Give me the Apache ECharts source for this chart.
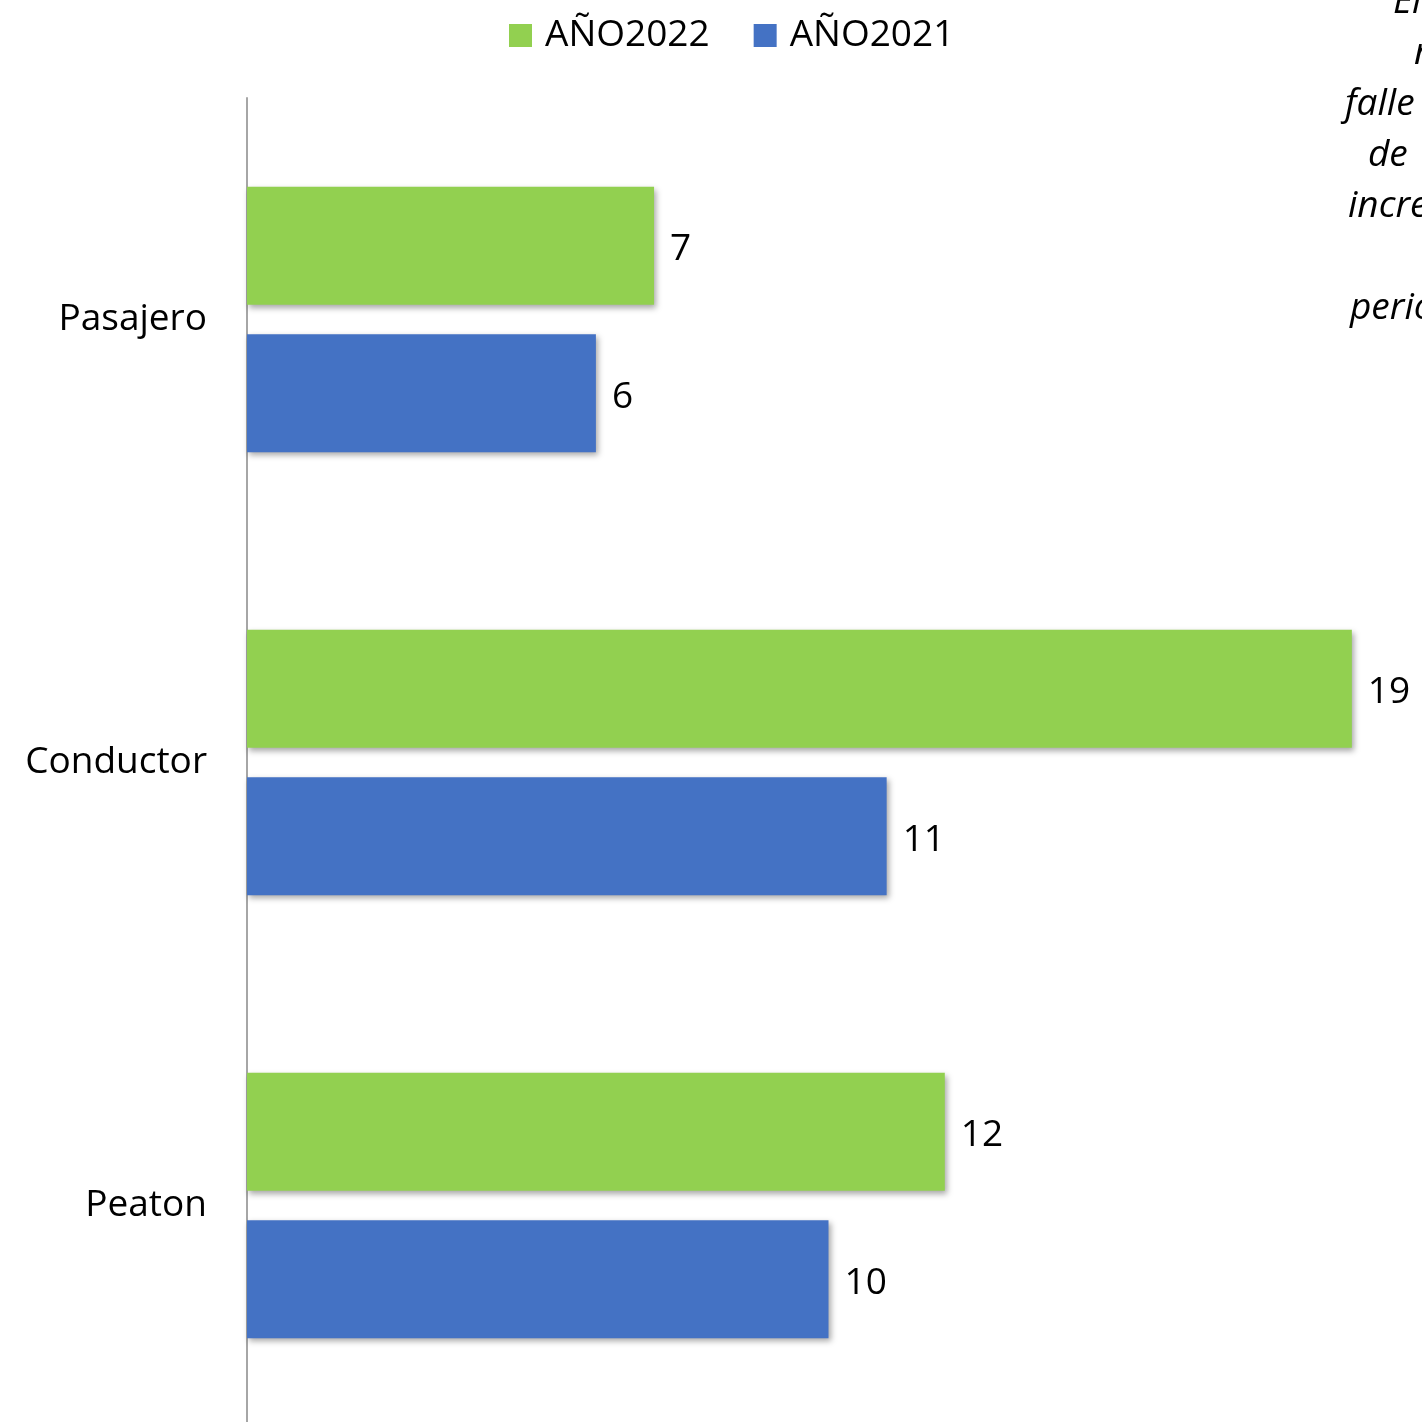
<!DOCTYPE html>
<html><head><meta charset="utf-8">
<script src="https://cdn.jsdelivr.net/npm/echarts@6/dist/echarts.min.js"></script>
<style>html,body{margin:0;padding:0;background:#fff;overflow:hidden}#c{width:1422px;height:1427px}</style>
</head><body><div id="c"></div>
<script>
const categories = ['Pasajero', 'Conductor', 'Peaton'];
const seriesNames = ['AÑO2022', 'AÑO2021'];
const values2022 = [7, 19, 12];
const values2021 = [6, 11, 10];
const sideTextLines = ['El', 'n', 'falle', 'de ', 'incre', '', 'perio'];
const sideTextX = [1393, 1414, 1345, 1368, 1348, 0, 1350];

const FONT = '"Open Sans", "Liberation Sans", sans-serif';
const chart = echarts.init(document.getElementById('c'));
const barShadow = {shadowColor: 'rgba(0,0,0,0.35)', shadowBlur: 6, shadowOffsetX: 2, shadowOffsetY: 3};
const labelStyle = {show: true, position: 'right', distance: 16, offset: [0, 4], color: '#000', fontSize: 37, fontFamily: FONT};

chart.setOption({
  animation: false,
  backgroundColor: '#fff',
  legend: {
    data: seriesNames, top: 12, left: 504, itemWidth: 23, itemHeight: 23, itemGap: 44,
    icon: 'rect', textStyle: {fontSize: 37, fontFamily: FONT, color: '#000', padding: [0, 0, 0, 8]}
  },
  grid: {left: 247, right: 12, top: 98, bottom: 0, containLabel: false},
  xAxis: {type: 'value', min: 0, max: 20, show: false},
  yAxis: {
    type: 'category', data: categories, inverse: true,
    axisLine: {show: true, lineStyle: {color: '#A6A6A6', width: 2}},
    axisTick: {show: false},
    axisLabel: {fontSize: 37, fontFamily: FONT, color: '#000', margin: 40, padding: [10, 0, 0, 0]}
  },
  series: [
    {name: seriesNames[0], type: 'bar', data: values2022, barWidth: 118, barGap: '25%',
     itemStyle: Object.assign({color: '#92D050'}, barShadow), label: labelStyle},
    {name: seriesNames[1], type: 'bar', data: values2021, barWidth: 118, barGap: '25%',
     itemStyle: Object.assign({color: '#4472C4'}, barShadow), label: labelStyle}
  ],
  graphic: sideTextLines.map((t, i) => ({
    type: 'text', left: sideTextX[i], top: -16 + i * 51,
    style: {text: t, fontSize: 37, fontStyle: 'italic', fontFamily: FONT, fill: '#000'}
  }))
});
</script></body></html>
